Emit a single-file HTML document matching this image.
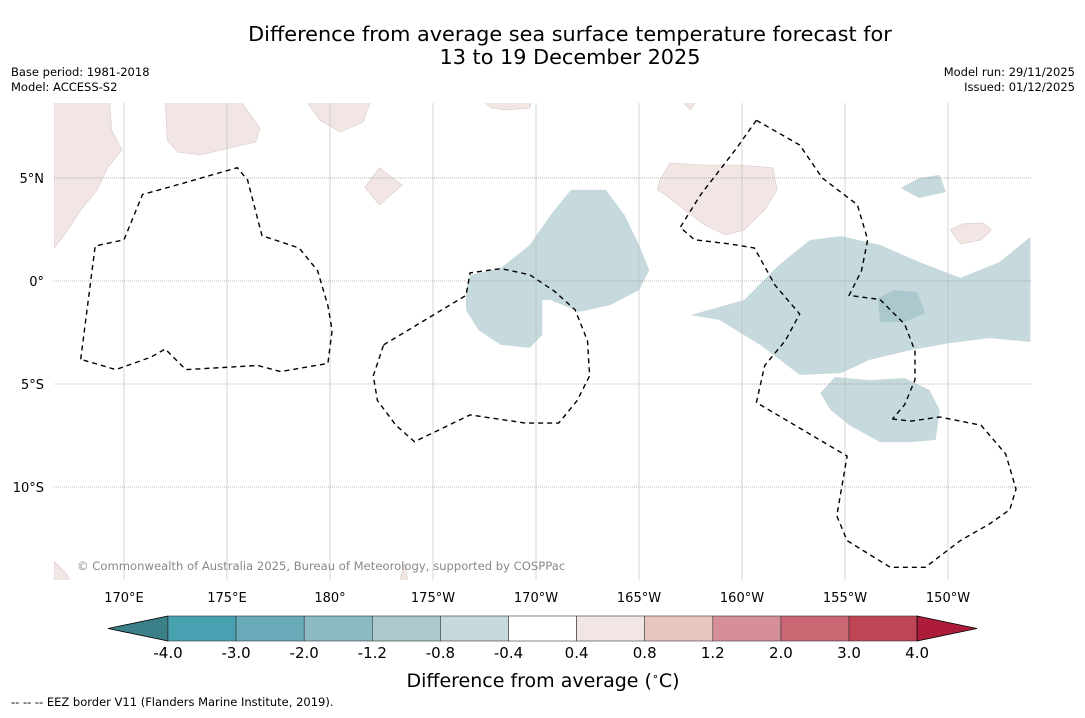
<!DOCTYPE html>
<html><head><meta charset="utf-8"><style>
body{margin:0;background:#fff;width:1085px;height:713px;overflow:hidden;font-family:"Liberation Sans","DejaVu Sans",sans-serif}
svg text{font-family:"DejaVu Sans","Liberation Sans",sans-serif}
</style></head><body>
<svg id="chart" width="1085" height="713" xmlns="http://www.w3.org/2000/svg">
<text x="570" y="41" font-size="20.8" text-anchor="middle">Difference from average sea surface temperature forecast for</text>
<text x="570" y="64" font-size="20.8" text-anchor="middle">13 to 19 December 2025</text>
<text x="11" y="76" font-size="11.5">Base period: 1981-2018</text>
<text x="11" y="91" font-size="11.5">Model: ACCESS-S2</text>
<text x="1075" y="76" font-size="11.5" text-anchor="end">Model run: 29/11/2025</text>
<text x="1075" y="91" font-size="11.5" text-anchor="end">Issued: 01/12/2025</text>
<defs><clipPath id="mapclip"><rect x="54" y="103" width="977" height="477"/></clipPath></defs>
<g id="map" clip-path="url(#mapclip)"></g>
<g id="grid"></g>
<g id="eez" clip-path="url(#mapclip)"></g>
<text x="77" y="570" font-size="11.6" fill="#888">© Commonwealth of Australia 2025, Bureau of Meteorology, supported by COSPPac</text>
<g id="axes"></g>
<g id="cbar"></g>
<text x="543" y="687" font-size="19" text-anchor="middle">Difference from average (<tspan font-size="11" dy="-7">∘</tspan><tspan dy="7">C)</tspan></text>
<text x="11" y="706" font-size="11.5">--  --  -- EEZ border V11 (Flanders Marine Institute, 2019).</text>
</svg>
<script>
const levels=["-4.0","-3.0","-2.0","-1.2","-0.8","-0.4","0.4","0.8","1.2","2.0","3.0","4.0"];
const levelColors=["#47a1b1","#69abb9","#8bbac5","#aac8cd","#c6d9dc","#ffffff","#f1e6e4","#e8c6c0","#d68f96","#c96773","#bf4555"];
const lonTicks=[170,175,180,185,190,195,200,205,210];
const lonLabels=["170°E","175°E","180°","175°W","170°W","165°W","160°W","155°W","150°W"];
const latTicks=[5,0,-5,-10];
const latLabels=["5°N","0°","5°S","10°S"];
const teal1=[[197.5,-1.65],[200.1,-0.92],[201.8,0.78],[203.3,1.99],[204.8,2.18],[206.7,1.75],[208.6,0.92],[210.6,0.15],[212.5,0.92],[214.0,2.14],[214.0,-2.96],[212.0,-2.77],[210.1,-3.01],[208.2,-3.35],[206.2,-3.83],[204.8,-4.47],[202.8,-4.56],[200.9,-3.11],[198.9,-1.89]];
const teal1dark=[[206.6,-0.83],[207.4,-0.44],[208.5,-0.53],[208.9,-1.55],[207.9,-1.99],[206.7,-1.99]];
const teal2=[[203.8,-5.44],[204.5,-4.66],[206.2,-4.81],[207.9,-4.71],[209.1,-5.29],[209.6,-6.26],[209.4,-7.72],[208.2,-7.82],[206.7,-7.82],[205.2,-6.99],[204.3,-6.26]];
const teal3=[[207.7,4.51],[208.6,5.0],[209.6,5.15],[209.9,4.32],[208.6,4.03]];
const teal4=[[186.6,-0.44],[186.8,0.29],[188.3,0.63],[189.7,1.75],[190.7,3.2],[191.7,4.42],[193.4,4.42],[194.3,3.2],[195.0,1.75],[195.5,0.53],[195.0,-0.44],[193.6,-1.17],[192.1,-1.5],[190.7,-0.92],[190.3,-0.92],[190.3,-2.62],[189.7,-3.25],[188.3,-3.1],[187.2,-2.38],[186.6,-1.41]];
const pink1=[[166.6,8.8],[169.3,8.8],[169.4,7.33],[169.9,6.36],[169.2,5.49],[168.7,4.42],[167.9,3.45],[167.1,2.23],[166.6,1.6]];
const pink2=[[172.0,8.8],[175.6,8.8],[176.6,7.43],[176.4,6.75],[173.7,6.12],[172.6,6.26],[172.1,6.84]];
const pink3=[[178.8,8.8],[182.0,8.8],[181.6,7.72],[180.5,7.23],[179.5,7.82]];
const pink4=[[187.4,8.8],[189.8,8.8],[189.7,8.4],[188.5,8.3],[187.8,8.4]];
const pink5=[[197.0,8.8],[197.8,8.8],[197.5,8.3]];
const pink6=[[181.7,4.56],[182.4,5.49],[183.5,4.66],[182.4,3.69]];
const pink7=[[196.0,4.9],[196.5,5.73],[198.0,5.63],[199.9,5.63],[201.5,5.49],[201.7,4.42],[201.1,3.45],[200.1,2.48],[199.2,2.23],[198.2,2.72],[197.2,3.45],[196.3,4.17],[195.9,4.42]];
const pink8=[[210.1,2.48],[210.7,2.77],[211.7,2.82],[212.1,2.48],[211.6,1.99],[210.6,1.8]];
const pink9=[[166.6,-13.6],[167.2,-14.2],[167.4,-14.6],[166.6,-14.6]];
const pink10=[[183.4,-14.6],[183.6,-13.7],[183.8,-14.6]];
const regions=[[teal1,4],[teal1dark,3],[teal2,4],[teal3,4],[teal4,4],[pink1,6],[pink2,6],[pink3,6],[pink4,6],[pink5,6],[pink6,6],[pink7,6],[pink8,6],[pink9,6],[pink10,6]];
const eez1=[[167.9,-3.8],[168.6,1.7],[170.0,2.0],[170.9,4.2],[172.7,4.7],[175.5,5.5],[176.0,4.9],[176.7,2.2],[178.5,1.6],[179.4,0.5],[179.9,-1.2],[180.1,-2.4],[179.9,-4.0],[177.6,-4.4],[176.5,-4.1],[173.0,-4.3],[172.0,-3.3],[171.3,-3.7],[169.6,-4.3],[167.9,-3.8]];
const eez2=[[182.6,-3.1],[186.6,-0.7],[186.8,0.4],[188.3,0.6],[189.7,0.3],[190.9,-0.5],[191.9,-1.4],[192.5,-2.9],[192.6,-4.6],[192.0,-5.8],[191.1,-6.9],[189.5,-6.9],[186.8,-6.5],[184.1,-7.8],[183.2,-7.0],[182.3,-5.8],[182.1,-4.6],[182.6,-3.1]];
const eez3=[[200.7,7.8],[199.7,6.4],[198.0,4.2],[197.0,2.6],[197.7,2.0],[199.4,1.8],[200.6,1.6],[201.6,-0.2],[202.8,-1.6],[202.1,-2.9],[201.1,-4.1],[200.7,-5.9],[205.1,-8.5],[204.6,-11.4],[205.1,-12.6],[207.2,-13.9],[208.9,-13.9],[210.6,-12.6],[212.0,-11.8],[213.0,-11.1],[213.3,-10.1],[212.8,-8.4],[211.6,-7.0],[209.6,-6.6],[208.2,-6.8],[207.3,-6.7]];
const eez4=[[200.7,7.8],[202.8,6.6],[203.9,5.0],[205.6,3.7],[206.1,2.0],[205.8,0.5],[205.2,-0.7],[206.7,-0.9],[207.9,-2.1],[208.4,-3.4],[208.4,-4.8],[207.9,-6.0],[207.3,-6.7]];
const eezLines=[eez1,eez2,eez3,eez4];

const NS="http://www.w3.org/2000/svg";
const px=lon=>124+(lon-170)*20.6;
const py=lat=>281-lat*20.6;
function mk(tag,attrs,parent){const e=document.createElementNS(NS,tag);for(const k in attrs)e.setAttribute(k,attrs[k]);parent.appendChild(e);return e;}
const ptsStr=a=>a.map(p=>px(p[0]).toFixed(1)+","+py(p[1]).toFixed(1)).join(" ");
const map=document.getElementById("map");
regions.forEach(r=>{
  const c=levelColors[r[1]];
  const p=mk("polygon",{points:ptsStr(r[0]),fill:c,stroke:r[1]===6?"#d9c9c6":"none","stroke-width":0.6},map);
  
  
});
const grid=document.getElementById("grid");
lonTicks.forEach(l=>{const e=mk("line",{x1:px(l),x2:px(l),y1:103,y2:580,stroke:"#bbb","stroke-width":0.6},grid);
  
  });
latTicks.forEach(l=>{const e=mk("line",{x1:54,x2:1031,y1:py(l),y2:py(l),stroke:"#777","stroke-width":0.6,"stroke-dasharray":"1,1"},grid);
  
  });
const eez=document.getElementById("eez");
eezLines.forEach(l=>{const e=mk("polyline",{points:ptsStr(l),fill:"none",stroke:"#000","stroke-width":1.4,"stroke-dasharray":"5,4"},eez);
  
  });
const axes=document.getElementById("axes");
lonTicks.forEach((l,i)=>{const t=mk("text",{x:px(l),y:602,"font-size":13,"text-anchor":"middle"},axes);t.textContent=lonLabels[i];
  
  });
latTicks.forEach((l,i)=>{const t=mk("text",{x:44,y:py(l)+5,"font-size":13,"text-anchor":"end"},axes);t.textContent=latLabels[i];
  
  });
const cb=document.getElementById("cbar");
const cx0=168,cw=68.1,cy=616,ch=25;
const la=mk("polygon",{points:`108,${cy+ch/2} ${cx0},${cy} ${cx0},${cy+ch}`,fill:"#3b8088",stroke:"#000","stroke-width":0.8},cb);


levelColors.forEach((c,i)=>{const r=mk("rect",{x:cx0+i*cw,y:cy,width:cw,height:ch,fill:c,stroke:"#333","stroke-width":0.6},cb);
  
  });
const ra=mk("polygon",{points:`${cx0+11*cw},${cy} 977,${cy+ch/2} ${cx0+11*cw},${cy+ch}`,fill:"#ad1d3a",stroke:"#000","stroke-width":0.8},cb);


levels.forEach((v,i)=>{const t=mk("text",{x:cx0+i*cw,y:658,"font-size":15,"text-anchor":"middle"},cb);t.textContent=v;
  
  });
</script>
</body></html>
